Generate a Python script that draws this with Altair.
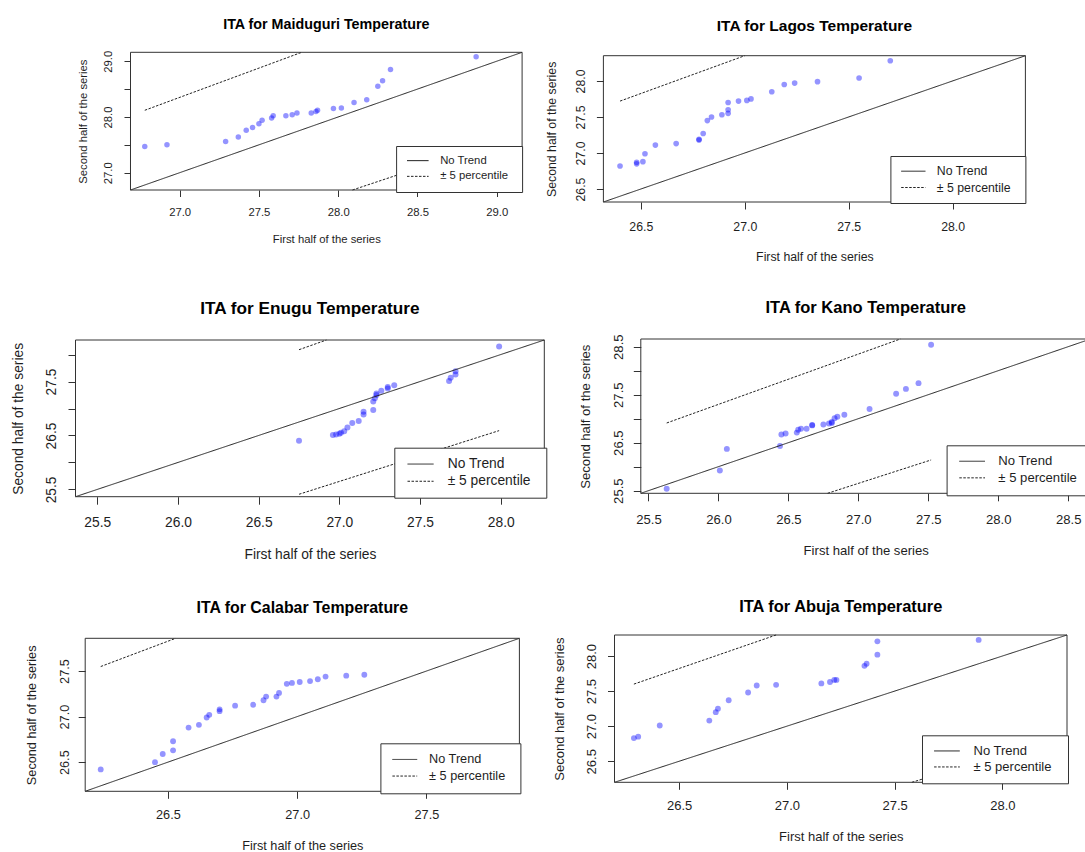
import math
import altair as alt
import pandas as pd

FONT = "Liberation Sans"
W, H = 1085, 852

stations = ["Maiduguri", "Lagos", "Enugu", "Kano", "Calabar", "Abuja"]
legend_labels = ["No Trend", "\u00b1 5 percentile"]

# ---------------- data ----------------
maiduguri_first = [26.78, 26.92, 27.29, 27.37, 27.42, 27.46, 27.50, 27.52, 27.58, 27.59, 27.67, 27.71,
                   27.74, 27.83, 27.86, 27.87, 27.97, 28.02, 28.10, 28.18, 28.25, 28.28, 28.33, 28.87]
maiduguri_second = [27.47, 27.50, 27.56, 27.64, 27.76, 27.81, 27.88, 27.94, 27.98, 28.02, 28.02, 28.04,
                    28.07, 28.07, 28.10, 28.12, 28.15, 28.16, 28.26, 28.31, 28.55, 28.65, 28.85, 29.08]

lagos_first = [26.40, 26.48, 26.48, 26.51, 26.52, 26.57, 26.67, 26.78, 26.78, 26.80, 26.82, 26.84, 26.89,
               26.92, 26.92, 26.92, 26.97, 27.01, 27.03, 27.13, 27.19, 27.24, 27.35, 27.55, 27.70]
lagos_second = [26.82, 26.85, 26.87, 26.88, 26.99, 27.11, 27.13, 27.18, 27.19, 27.27, 27.45, 27.50, 27.53,
                27.55, 27.60, 27.70, 27.72, 27.73, 27.75, 27.85, 27.95, 27.97, 27.99, 28.04, 28.28]

enugu_first = [26.75, 26.96, 26.98, 27.00, 27.01, 27.03, 27.05, 27.08, 27.12, 27.15, 27.15, 27.21, 27.21,
               27.22, 27.23, 27.23, 27.26, 27.30, 27.30, 27.34, 27.68, 27.69, 27.72, 27.72, 27.99]
enugu_second = [26.40, 26.51, 26.52, 26.53, 26.55, 26.58, 26.65, 26.73, 26.77, 26.89, 26.94, 26.97, 27.13,
                27.19, 27.25, 27.28, 27.33, 27.37, 27.40, 27.43, 27.51, 27.57, 27.63, 27.69, 28.15]

kano_first = [25.63, 26.01, 26.06, 26.44, 26.45, 26.48, 26.56, 26.57, 26.59, 26.63, 26.67, 26.67,
              26.75, 26.79, 26.81, 26.81, 26.83, 26.85, 26.90, 27.08, 27.27, 27.34, 27.43, 27.52]
kano_second = [25.54, 25.92, 26.37, 26.43, 26.67, 26.69, 26.71, 26.77, 26.79, 26.79, 26.86, 26.87,
               26.88, 26.90, 26.91, 26.93, 27.01, 27.04, 27.08, 27.20, 27.52, 27.62, 27.74, 28.54]

calabar_first = [26.24, 26.45, 26.48, 26.52, 26.52, 26.58, 26.62, 26.65, 26.66, 26.70, 26.70, 26.76, 26.83,
                 26.87, 26.88, 26.92, 26.93, 26.96, 26.98, 27.01, 27.05, 27.08, 27.11, 27.19, 27.26]
calabar_second = [26.42, 26.50, 26.59, 26.63, 26.73, 26.88, 26.91, 26.99, 27.02, 27.06, 27.08, 27.12, 27.13,
                  27.18, 27.22, 27.22, 27.26, 27.36, 27.37, 27.38, 27.39, 27.41, 27.44, 27.45, 27.46]

abuja_first = [26.29, 26.31, 26.41, 26.64, 26.67, 26.68, 26.73, 26.82, 26.86, 26.95, 27.16, 27.20,
               27.22, 27.23, 27.36, 27.37, 27.42, 27.42, 27.89]
abuja_second = [26.83, 26.85, 27.01, 27.08, 27.20, 27.25, 27.37, 27.48, 27.58, 27.59, 27.61, 27.63,
                27.66, 27.66, 27.86, 27.89, 28.02, 28.21, 28.23]

first_half = {"Maiduguri": maiduguri_first, "Lagos": lagos_first, "Enugu": enugu_first,
              "Kano": kano_first, "Calabar": calabar_first, "Abuja": abuja_first}
second_half = {"Maiduguri": maiduguri_second, "Lagos": lagos_second, "Enugu": enugu_second,
               "Kano": kano_second, "Calabar": calabar_second, "Abuja": abuja_second}

# axis limits (same for both axes in each panel)
axis_limits = {"Maiduguri": [26.69, 29.16], "Lagos": [26.32, 28.35], "Enugu": [25.365, 28.27],
               "Kano": [25.445, 28.66], "Calabar": [26.18, 27.86], "Abuja": [26.2, 28.3]}

x_tick_values = {"Maiduguri": [27.0, 27.5, 28.0, 28.5, 29.0],
                 "Lagos": [26.5, 27.0, 27.5, 28.0],
                 "Enugu": [25.5, 26.0, 26.5, 27.0, 27.5, 28.0],
                 "Kano": [25.5, 26.0, 26.5, 27.0, 27.5, 28.0, 28.5],
                 "Calabar": [26.5, 27.0, 27.5],
                 "Abuja": [26.5, 27.0, 27.5, 28.0]}
y_tick_values = {"Maiduguri": [27.0, 27.5, 28.0, 28.5, 29.0],
                 "Lagos": [26.5, 27.0, 27.5, 28.0],
                 "Enugu": [25.5, 26.0, 26.5, 27.0, 27.5, 28.0],
                 "Kano": [25.5, 26.0, 26.5, 27.0, 27.5, 28.0, 28.5],
                 "Calabar": [26.5, 27.0, 27.5],
                 "Abuja": [26.5, 27.0, 27.5, 28.0]}
y_tick_labelled = {"Maiduguri": [27.0, 28.0, 29.0],
                   "Lagos": [26.5, 27.0, 27.5, 28.0],
                   "Enugu": [25.5, 26.5, 27.5],
                   "Kano": [25.5, 26.5, 27.5, 28.5],
                   "Calabar": [26.5, 27.0, 27.5],
                   "Abuja": [26.5, 27.0, 27.5, 28.0]}

# +/- 5 percentile line end points as seen inside each plot frame
upper_line_x = {"Maiduguri": [26.78, 27.77], "Lagos": [26.40, 27.00], "Enugu": [26.75, 26.92],
                "Kano": [25.63, 27.30], "Calabar": [26.24, 26.53], "Abuja": [26.29, 26.95]}
upper_line_y = {"Maiduguri": [28.12, 29.16], "Lagos": [27.72, 28.35], "Enugu": [28.09, 28.27],
                "Kano": [26.91, 28.66], "Calabar": [27.55, 27.86], "Abuja": [27.60, 28.30]}
lower_line_x = {"Maiduguri": [28.09, 28.87], "Lagos": [], "Enugu": [26.75, 27.99],
                "Kano": [26.78, 27.52], "Calabar": [], "Abuja": [27.58, 27.89]}
lower_line_y = {"Maiduguri": [26.69, 27.43], "Lagos": [], "Enugu": [25.41, 26.59],
                "Kano": [25.445, 26.14], "Calabar": [], "Abuja": [26.20, 26.49]}

# ---------------- page layout (pixels) ----------------
layout = {
    "Maiduguri": dict(L=130.5, R=522.1, T=52.3, B=190.0, fs=11.3, tfs=14.3, title_c=24.0, xlab_c=212.0,
                      xtitle_c=239.0, ylab_c=108.2, ytitle_c=82.4, tick=6.5, pt=30,
                      BL=396.8, BT=146.7, S=21.6, SL=407.7, TS=439.7, pitch=14.0),
    "Lagos": dict(L=603.4, R=1025.4, T=55.7, B=202.0, fs=12.3, tfs=15.5, title_c=25.0, xlab_c=225.3,
                  xtitle_c=256.0, ylab_c=579.9, ytitle_c=550.4, tick=7.0, pt=32,
                  BL=890.8, BT=156.0, S=24.3, SL=901.6, TS=936.3, pitch=15.6),
    "Enugu": dict(L=75.5, R=544.3, T=340.0, B=496.7, fs=13.8, tfs=17.2, title_c=308.3, xlab_c=521.7,
                  xtitle_c=554.0, ylab_c=51.0, ytitle_c=17.2, tick=7.5, pt=36,
                  BL=394.7, BT=448.0, S=26.1, SL=407.9, TS=445.3, pitch=16.0),
    "Kano": dict(L=640.8, R=1090.6, T=339.0, B=493.3, fs=13.1, tfs=16.5, title_c=307.3, xlab_c=518.3,
                 xtitle_c=550.0, ylab_c=617.4, ytitle_c=585.0, tick=7.5, pt=35,
                 BL=947.4, BT=445.7, S=25.7, SL=960.1, TS=996.5, pitch=15.7),
    "Calabar": dict(L=85.2, R=519.4, T=638.3, B=791.3, fs=12.7, tfs=15.9, title_c=606.7, xlab_c=814.0,
                    xtitle_c=844.3, ylab_c=63.6, ytitle_c=30.9, tick=7.0, pt=34,
                    BL=380.6, BT=743.7, S=24.8, SL=392.6, TS=427.7, pitch=15.3),
    "Abuja": dict(L=614.5, R=1067.0, T=635.0, B=782.3, fs=13.0, tfs=16.4, title_c=605.7, xlab_c=805.0,
                  xtitle_c=835.7, ylab_c=590.3, ytitle_c=559.1, tick=7.0, pt=34,
                  BL=922.4, BT=736.0, S=25.7, SL=934.5, TS=971.6, pitch=15.0),
}

TEXT = "#1e1e1e"
LINE = "#333333"


def make_legend(g):
    fs = g["fs"]
    rp = g["pitch"] - fs
    content_h = g["pitch"] + fs
    p = (g["B"] - g["BT"] - content_h) / 2.0
    h = math.ceil(content_h + 2 * p)
    S = g["S"]
    off = max(math.ceil(S + 1), fs)
    so = g["SL"] - g["BL"] - p - off / 2.0 + S / 2.0
    o = g["TS"] - g["BL"] - p - off
    wt = 6.031 * fs
    ent = math.ceil(off + o + wt)
    tw = 0.28
    tp = (g["R"] - g["BL"]) - 2 * p - ent - tw
    w = math.ceil(2 * p + ent + tp + tw)
    return alt.Legend(
        orient="none", legendX=g["R"] - w, legendY=g["B"] - h, direction="vertical", columns=1,
        title=" ", titleOrient="right", titleFontSize=1, titlePadding=tp,
        padding=p, fillColor="white", strokeColor=LINE,
        symbolType="stroke", symbolSize=S * S, symbolStrokeWidth=1, symbolStrokeColor="#222222",
        symbolOffset=so, labelOffset=o, clipHeight=fs, rowPadding=rp,
        labelFont=FONT, labelFontSize=fs, labelColor=TEXT, labelBaseline="middle",
    )


def panel(name):
    g = layout[name]
    lo, hi = axis_limits[name]
    fs = g["fs"]
    k = 0.06 * fs
    xs = alt.Scale(domain=[lo, hi], range=[g["L"], g["R"]], nice=False, zero=False)
    ys = alt.Scale(domain=[lo, hi], range=[g["B"], g["T"]], nice=False, zero=False)

    lab_js = "[" + ",".join(repr(v) for v in y_tick_labelled[name]) + "]"

    xaxis = alt.Axis(
        orient="bottom", offset=g["B"] - H, values=x_tick_values[name], format=".1f",
        grid=False, domain=False, tickSize=g["tick"], tickColor=LINE, tickWidth=1,
        labelFont=FONT, labelFontSize=fs, labelColor=TEXT, labelBaseline="middle", labelAlign="center",
        labelPadding=g["xlab_c"] + k - g["B"] - g["tick"], labelFlush=False, labelOverlap=False,
        title="First half of the series", titleFont=FONT, titleFontSize=fs, titleFontWeight="normal",
        titleColor=TEXT, titleBaseline="middle", titleAlign="center", titleY=g["xtitle_c"] + k - g["B"],
    )
    yaxis = alt.Axis(
        orient="left", offset=-g["L"], values=y_tick_values[name],
        labelExpr=f"indexof({lab_js}, datum.value) >= 0 ? format(datum.value, '.1f') : ''",
        grid=False, domain=False, tickSize=g["tick"], tickColor=LINE, tickWidth=1,
        labelFont=FONT, labelFontSize=fs, labelColor=TEXT, labelAngle=270, labelAlign="center",
        labelBaseline="middle", labelPadding=g["L"] - g["tick"] - (g["ylab_c"] + k),
        labelFlush=False, labelOverlap=False,
        title="Second half of the series", titleFont=FONT, titleFontSize=fs, titleFontWeight="normal",
        titleColor=TEXT, titleAngle=270, titleBaseline="middle", titleAlign="center",
        titleX=g["ytitle_c"] + k - g["L"],
    )

    def X(field):
        return alt.X(field, scale=xs, axis=xaxis)

    def Y(field):
        return alt.Y(field, scale=ys, axis=yaxis)

    pts_df = pd.DataFrame({"first": first_half[name], "second": second_half[name]})
    pts = alt.Chart(pts_df).mark_circle(size=g["pt"], color="#0000ff", opacity=0.42).encode(
        x=X("first:Q"), y=Y("second:Q"),
    )

    rows = [
        {"first": lo, "second": lo, "kind": legend_labels[0], "seg": "a"},
        {"first": hi, "second": hi, "kind": legend_labels[0], "seg": "a"},
    ]
    for xv, yv in zip(upper_line_x[name], upper_line_y[name]):
        rows.append({"first": xv, "second": yv, "kind": legend_labels[1], "seg": "b"})
    for xv, yv in zip(lower_line_x[name], lower_line_y[name]):
        rows.append({"first": xv, "second": yv, "kind": legend_labels[1], "seg": "c"})
    lines = alt.Chart(pd.DataFrame(rows)).mark_line(color="#222222", strokeWidth=1).encode(
        x=X("first:Q"), y=Y("second:Q"),
        strokeDash=alt.StrokeDash(
            "kind:N",
            scale=alt.Scale(domain=legend_labels, range=[[1, 0], [2.5, 1.5]]),
            legend=make_legend(g),
        ),
        detail="seg:N",
    )

    frame_df = pd.DataFrame({"first": [lo], "first_end": [hi], "second": [lo], "second_end": [hi]})
    frame = alt.Chart(frame_df).mark_rect(fillOpacity=0, stroke=LINE, strokeWidth=1).encode(
        x=X("first:Q"), x2="first_end:Q",
        y=Y("second:Q"), y2="second_end:Q",
    )

    title_df = pd.DataFrame({"t": [f"ITA for {name} Temperature"], "first": [(lo + hi) / 2.0], "second": [hi]})
    title = alt.Chart(title_df).mark_text(
        font=FONT, fontSize=g["tfs"], fontWeight="bold", color="#000000", align="center",
        baseline="middle", dy=g["title_c"] + 0.06 * g["tfs"] - g["T"],
    ).encode(
        x=X("first:Q"), y=Y("second:Q"), text="t:N",
    )

    return alt.layer(pts, lines, frame, title)


chart = alt.layer(*[panel(n) for n in stations]).resolve_scale(
    x="independent", y="independent", strokeDash="independent"
).properties(
    width=W, height=H, padding=0, autosize=alt.AutoSizeParams(type="none"),
).configure(background="white", font=FONT).configure_view(stroke="transparent")

chart.save("out.html", embed_options={"renderer": "svg", "actions": False})
